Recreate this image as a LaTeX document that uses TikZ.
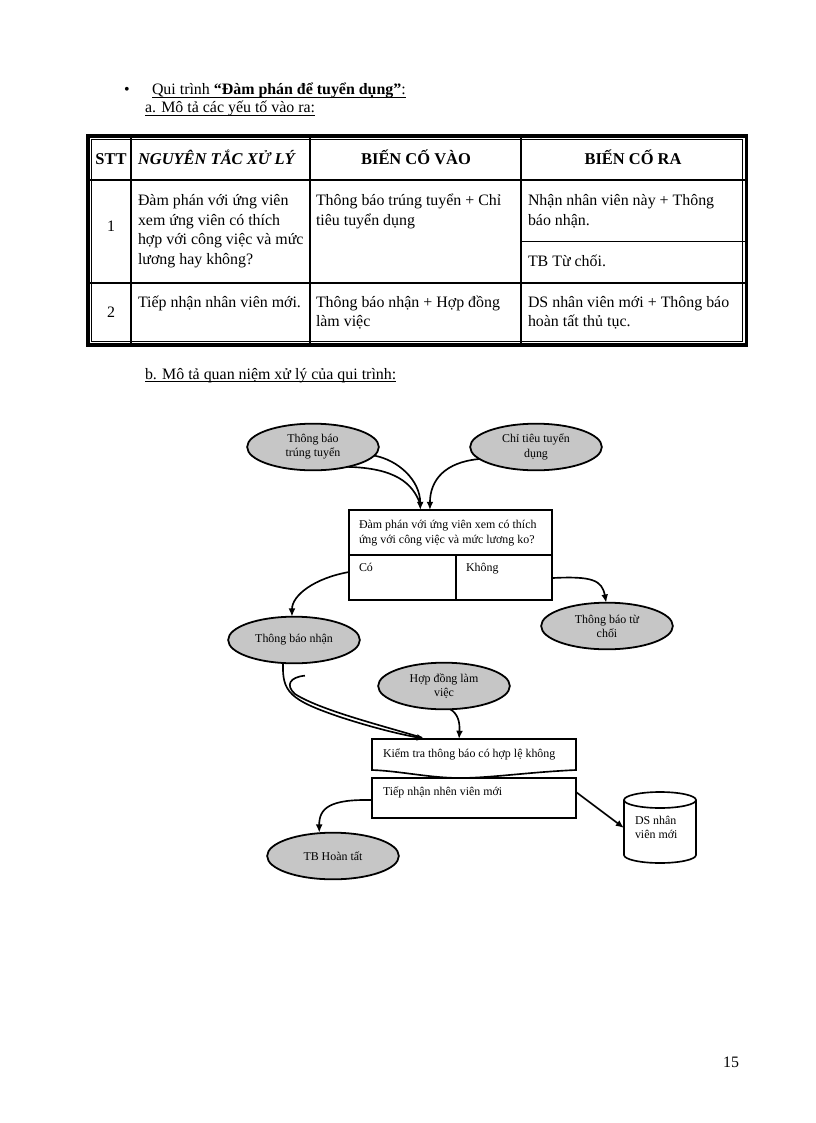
\documentclass[tikz,border=0pt]{standalone}
\usepackage{fontspec}
\setmainfont{Liberation Serif}
\usetikzlibrary{shapes.geometric,arrows.meta}
\newcommand\myul[1]{\underline{\smash{#1}}}
\begin{document}
\begin{tikzpicture}[x=0.729pt,y=-0.729pt,
  every node/.style={inner sep=0pt, outer sep=0pt},
  tx/.style={font=\fontsize{11.6}{14}\selectfont, anchor=base west},
  hd/.style={font=\fontsize{12}{14}\selectfont\bfseries, anchor=base},
  ell/.style={ellipse, draw, line width=1.3pt, fill=gray!45, minimum width=96pt, minimum height=34pt, align=center, font=\fontsize{8.7}{10.3}\selectfont},
  dg/.style={font=\fontsize{8.7}{11}\selectfont, anchor=base west},
  bx/.style={draw, line width=1.3pt, fill=white},
  tl/.style={line width=1.1pt},
  arr/.style={line width=1.2pt, -{Latex[length=6pt,width=5pt]}},
  ln/.style={line width=1.2pt}
]
\useasboundingbox (0,0) rectangle (816,1123);
\fill[white] (0,0) rectangle (816,1123);

% ---------- headings ----------
\node[tx] (bul) at (124,95) {•};
\node[tx] (h1) at (152,95) {\myul{Qui trình \textbf{“Đàm phán để tuyển dụng”}:}};
\node[tx] (h2) at (145,113) {\myul{a. Mô tả các yếu tố vào ra:}};

% ---------- table ----------
\draw[line width=2.2pt] (88,136) rectangle (746,345);
\draw[line width=0.5pt] (91.5,139.5) rectangle (742.5,341.5);
\draw[tl] (131,137) -- (131,344);
\draw[tl] (310,137) -- (310,344);
\draw[tl] (521,137) -- (521,344);
\draw[tl] (89,180) -- (745,180);
\draw[tl] (89,283) -- (745,283);
\draw[tl] (521,241.5) -- (745,241.5);

\node[hd] (c1) at (111,165) {STT};
\node[tx, font=\fontsize{12}{14}\selectfont\bfseries\itshape] (c2) at (138,165) {NGUYÊN TẮC XỬ LÝ};
\node[hd] (c3) at (416,165) {BIẾN CỐ VÀO};
\node[hd] (c4) at (633,165) {BIẾN CỐ RA};

\node[tx, anchor=base] (r1) at (111,232) {1};
\node[tx] (r1a) at (138,206) {Đàm phán với ứng viên};
\node[tx] (r1b) at (138,225.5) {xem ứng viên có thích};
\node[tx] (r1c) at (138,245) {hợp với công việc và mức};
\node[tx] (r1d) at (138,264.5) {lương hay không?};
\node[tx] (r1e) at (316,206) {Thông báo trúng tuyển + Chỉ};
\node[tx] (r1f) at (316,225.5) {tiêu tuyển dụng};
\node[tx] (r1g) at (528,206) {Nhận nhân viên này + Thông};
\node[tx] (r1h) at (528,225.5) {báo nhận.};
\node[tx] (r1i) at (528,267) {TB Từ chối.};

\node[tx, anchor=base] (r2) at (111,317) {2};
\node[tx] (r2a) at (138,307) {Tiếp nhận nhân viên mới.};
\node[tx] (r2b) at (316,307) {Thông báo nhận + Hợp đồng};
\node[tx] (r2c) at (316,326.5) {làm việc};
\node[tx] (r2d) at (528,307) {DS nhân viên mới + Thông báo};
\node[tx] (r2e) at (528,326.5) {hoàn tất thủ tục.};

\node[tx] (h3) at (145,379) {\myul{b. Mô tả quan niệm xử lý của qui trình:}};

% ---------- diagram ----------
\node[ell] (ttt) at (313,447) {Thông báo\\trúng tuyển};
\node[ell] (ctt) at (536,447) {Chỉ tiêu tuyển\\dụng};

\node[bx, minimum width=148pt, minimum height=65.6pt] (dp) at (450.5,555) {};
\coordinate (dv) at (456,555);
\draw[ln] (dp.west) -- (dp.east);
\draw[ln] (dv) -- (dv |- dp.south);
\node[dg] (dpt1) at (359,528) {Đàm phán với ứng viên xem có thích};
\node[dg] (dpt2) at (359,543.5) {ứng với công việc và mức lương ko?};
\node[dg] (co) at (359,571) {Có};
\node[dg] (khong) at (466,571) {Không};

\node[ell] (tbn) at (294,640) {Thông báo nhận};
\node[ell] (tbtc) at (607,626) {Thông báo từ\\chối};
\node[ell] (hdlv) at (444,686) {Hợp đồng làm\\việc};

\node[minimum width=148.7pt, minimum height=22.6pt] (kt) at (474,754.5) {};
\draw[ln, fill=white] (kt.north west) -- (kt.north east) -- (kt.south east)
  .. controls (530,772) and (490,778) .. (460,778)
  .. controls (430,778) and (400,771) .. (kt.south west) -- cycle;
\node[dg] (ktt) at (383,757) {Kiểm tra thông báo có hợp lệ không};

\node[bx, minimum width=148.7pt, minimum height=29.2pt] (tn) at (474,798) {};
\node[dg] (tnt) at (383,795) {Tiếp nhận nhên viên mới};

\node[ell] (tbht) at (333,856) {TB Hoàn tất};

\node[minimum width=52.5pt, minimum height=51.8pt] (ds) at (660,828) {};
\draw[ln, fill=white] (624,800) -- (624,855) arc[start angle=180, end angle=0, x radius=36, y radius=8]
  -- (696,800) arc[start angle=0, end angle=-180, x radius=36, y radius=8] -- cycle;
\draw[ln] (624,800) arc[start angle=180, end angle=0, x radius=36, y radius=8];
\node[dg] (dst1) at (635,824) {DS nhân};
\node[dg] (dst2) at (635,838) {viên mới};

% ---------- connectors ----------
\draw[ln] (ttt.-30) .. controls (395,468) and (413,483) .. ([xshift=-22pt,yshift=4pt]dp.north);
\draw[arr] (ttt.-8) .. controls (398,460) and (420,480) .. ([xshift=-22pt]dp.north);
\draw[arr] (ctt.192) .. controls (445,462) and (430,480) .. ([xshift=-15pt]dp.north);
\draw[arr] ([yshift=-12.4pt]dp.west) .. controls (315,578) and (292,595) .. (tbn.95);
\draw[arr] ([yshift=-16.8pt]dp.east) .. controls (592,576) and (602,580) .. (tbtc.92);
\draw[ln] ([xshift=8pt,yshift=-9pt]tbn.south) .. controls (290,677) and (285,685) .. (295,694)
  .. controls (320,710) and (380,725) .. ([xshift=-38pt,yshift=1pt]kt.north);
\draw[arr] ([xshift=-8pt]tbn.south) .. controls (282,692) and (290,700) .. (340,717)
  .. controls (380,730) and (405,735) .. ([xshift=-35.7pt]kt.north);
\draw[arr] (hdlv.-75) .. controls (458,714) and (460,722) .. ([xshift=-10.9pt]kt.north);
\draw[arr] ([yshift=-1.5pt]tn.west) .. controls (330,799) and (319,808) .. ([xshift=-10pt]tbht.north);
\draw[arr] ([yshift=4.4pt]tn.east) -- (ds.west);

\node[tx, anchor=base] (pg) at (731,1067) {15};
\end{tikzpicture}
\end{document}
